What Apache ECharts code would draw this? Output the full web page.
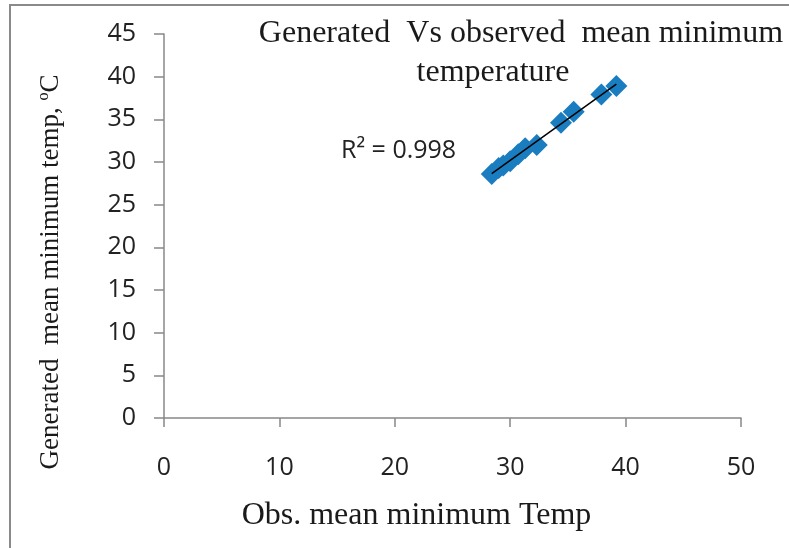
<!DOCTYPE html>
<html>
<head>
<meta charset="utf-8">
<script src="https://cdn.jsdelivr.net/npm/echarts@6/dist/echarts.min.js"></script>
<style>
  html, body { margin: 0; padding: 0; background: #fff; }
  #chart { width: 789px; height: 548px; }
</style>
</head>
<body>
<div id="chart"></div>
<script>
// observed vs generated mean minimum temperature
var observed  = [28.4, 29.0, 29.4, 30.0, 30.7, 31.3, 32.3, 34.4, 35.5, 37.9, 39.2];
var generated = [28.6, 29.3, 29.6, 30.1, 30.9, 31.6, 32.0, 34.6, 35.9, 37.9, 38.9];
var rSquaredText = 'R² = 0.998';
var xTicks = { min: 0, max: 50, interval: 10 };
var yTicks = { min: 0, max: 45, interval: 5 };

var points = [];
for (var i = 0; i < observed.length; i++) {
  points.push([observed[i], generated[i]]);
}

// linear trend line (least squares) over the observed range
var n = observed.length, sx = 0, sy = 0, sxx = 0, sxy = 0;
for (var i = 0; i < n; i++) {
  sx += observed[i]; sy += generated[i];
  sxx += observed[i] * observed[i]; sxy += observed[i] * generated[i];
}
var slope = (n * sxy - sx * sy) / (n * sxx - sx * sx);
var icpt = (sy - slope * sx) / n;
var xMin = Math.min.apply(null, observed), xMax = Math.max.apply(null, observed);
var trend = [[xMin, icpt + slope * xMin], [xMax, icpt + slope * xMax]];

var axisGray = '#888888';
var serif = '"Liberation Serif", "DejaVu Serif", serif';
var sans = '"Open Sans", "Liberation Sans", sans-serif';
var titleStyle = {
  fontFamily: serif,
  fontSize: 32,
  fontWeight: 'normal',
  color: '#1a1a1a'
};

var myChart = echarts.init(document.getElementById('chart'));
myChart.setOption({
  animation: false,
  title: [
    { text: 'Generated  Vs observed  mean minimum', left: 516, top: 13, textAlign: 'center', textStyle: titleStyle },
    { text: 'temperature', left: 488, top: 52, textAlign: 'center', textStyle: titleStyle }
  ],
  grid: { left: 164, right: 48, top: 34, bottom: 130 },
  xAxis: {
    type: 'value',
    min: xTicks.min,
    max: xTicks.max,
    interval: xTicks.interval,
    name: 'Obs. mean minimum Temp',
    nameLocation: 'middle',
    nameGap: 82,
    nameTextStyle: {
      fontFamily: serif,
      fontSize: 32,
      color: '#1a1a1a',
      padding: [0, 72, 0, 0]
    },
    axisLine: { onZero: false, lineStyle: { color: axisGray, width: 1.5 } },
    axisTick: { show: true, length: 9, lineStyle: { color: axisGray, width: 1.5 } },
    axisLabel: { margin: 37, fontFamily: sans, fontSize: 25, color: '#222' },
    splitLine: { show: false }
  },
  yAxis: {
    type: 'value',
    min: yTicks.min,
    max: yTicks.max,
    interval: yTicks.interval,
    name: '{a|Generated  mean minimum temp, }{s|o}{a|C}',
    nameLocation: 'middle',
    nameGap: 98,
    nameTextStyle: {
      padding: [0, 92, 0, 0],
      rich: {
        a: { fontFamily: serif, fontSize: 27, lineHeight: 30, color: '#1a1a1a' },
        s: { fontFamily: serif, fontSize: 16, lineHeight: 16, verticalAlign: 'top', color: '#1a1a1a' }
      }
    },
    axisLine: { show: true, lineStyle: { color: axisGray, width: 1.5 } },
    axisTick: { show: true, length: 10, lineStyle: { color: axisGray, width: 1.5 } },
    axisLabel: { margin: 28, fontFamily: sans, fontSize: 25, color: '#222' },
    splitLine: { show: false }
  },
  graphic: [
    {
      type: 'rect',
      shape: { x: 10, y: 5, width: 800, height: 560 },
      style: { fill: 'none', stroke: '#8a8a8a', lineWidth: 2 },
      silent: true
    },
    {
      type: 'text',
      left: 341,
      top: 138,
      style: { text: rSquaredText, fontFamily: sans, fontSize: 25, fill: '#222' }
    }
  ],
  series: [
    {
      type: 'scatter',
      symbol: 'diamond',
      symbolSize: 22,
      itemStyle: { color: '#1a7dc0', opacity: 1 },
      data: points,
      z: 2
    },
    {
      type: 'line',
      data: trend,
      symbol: 'none',
      lineStyle: { color: '#000', width: 1.5 },
      z: 3
    }
  ]
});
</script>
</body>
</html>
